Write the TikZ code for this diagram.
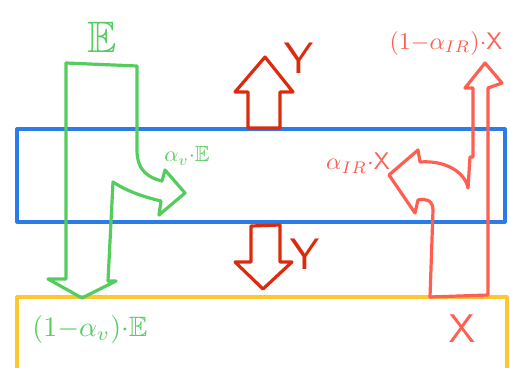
\documentclass[tikz,border=0pt]{standalone}
\usepackage{amssymb}
\usepackage{graphicx}
\definecolor{bluec}{HTML}{2B7BE8}
\definecolor{yellowc}{HTML}{FFC62E}
\definecolor{greenc}{HTML}{55CC5E}
\definecolor{darkred}{HTML}{DD2A0C}
\definecolor{salmon}{HTML}{FF5F50}
\begin{document}
\begin{tikzpicture}[x=1pt,y=-1pt,
  stroke/.style={line width=3.2pt,line join=round,line cap=round},
  gtext/.style={text=greenc,inner sep=0pt},
  rtext/.style={text=darkred,inner sep=0pt},
  stext/.style={text=salmon,inner sep=0pt}]
\useasboundingbox (0,0) rectangle (510,367);
% blue layer
\draw[stroke,bluec] (17,129) rectangle (505,222);
% yellow layer
\draw[stroke,yellowc] (17,372) -- (17,297) -- (507,297) -- (507,372);
% green flux
\draw[stroke,greenc] (66,279) -- (66,63) -- (137,66) -- (137,150)
  .. controls (137,172) and (150,178) .. (162,181) -- (165,170) -- (185,193)
  -- (159,215) -- (161,201) .. controls (140,196) and (125,190) .. (113,182)
  -- (108,281) -- (116,281) -- (82,298) -- (48,279) -- cycle;
% Y arrows
\draw[stroke,darkred] (248,128) -- (248,92) -- (235,92) -- (265,57) -- (293,92)
  -- (280,92) -- (280,128) -- cycle;
\draw[stroke,darkred] (251,226) -- (280,225) -- (280,262) -- (292,262) -- (263,289)
  -- (235,262) -- (251,262) -- cycle;
% X flux
\draw[stroke,salmon] (430,297) -- (433,210) .. controls (433,200) and (425,198) .. (418,200)
  -- (415,213) -- (389,175) -- (418,150) -- (420,162)
  .. controls (445,160) and (465,172) .. (468,188) -- (470,157) -- (473,157)
  -- (473,88) -- (465,88) -- (485,63) -- (502,83) -- (488,88) -- (488,295) -- cycle;
% labels
\node[gtext] (lE) at (102,37) {\scalebox{4.4}{$\mathbb{E}$}};
\node[gtext] (laE) at (187,156) {\scalebox{2.2}{$\alpha_v{\cdot}\mathbb{E}$}};
\node[gtext] (lbE) at (90,329) {\scalebox{2.8}{$(1{-}\alpha_v){\cdot}\mathbb{E}$}};
\node[rtext] (lY1) at (299,58) {\scalebox{4.4}{$\mathsf{Y}$}};
\node[rtext] (lY2) at (305,254) {\scalebox{4.4}{$\mathsf{Y}$}};
\node[stext] (ltX) at (446,43) {\scalebox{2.4}{$(1{-}\alpha_{IR}){\cdot}\mathsf{X}$}};
\node[stext] (lmX) at (358,163) {\scalebox{2.4}{$\alpha_{IR}{\cdot}\mathsf{X}$}};
\node[stext] (lX) at (462,329) {\scalebox{4}{$\mathsf{X}$}};
\end{tikzpicture}
\end{document}
